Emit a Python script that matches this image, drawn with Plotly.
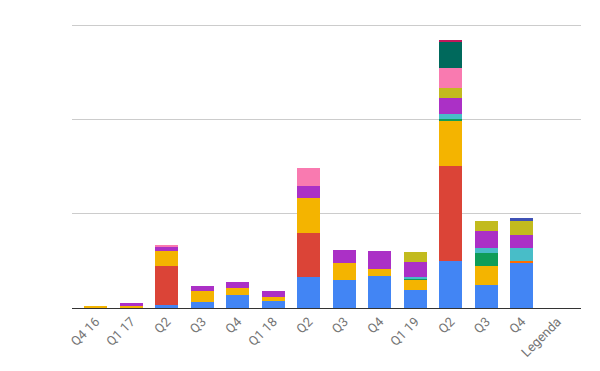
import plotly.graph_objects as go

categories = ["Q4 16", "Q1 17", "Q2", "Q3", "Q4", "Q1 18", "Q2", "Q3", "Q4",
              "Q1 19", "Q2", "Q3", "Q4", "Legenda"]

blue =      [0,   0,   3.5, 6.7, 14.1, 7.8, 32.5, 30.0, 34.3, 19.4, 49.5, 24.8, 47.8, 0]
red =       [0,   0,  41.5, 0,   0,    0,   47.5, 0,    0,    0,   101.7, 0,   0,    0]
yellow =    [1.5, 2.5, 16.0, 11.7, 7.4, 4.3, 37.2, 18.0, 7.4, 10.6, 47.8, 20.2, 0,   0]
green =     [0,   0,   0,   0,   0,    0,   0,    0,    0,    1.4,  2.1, 13.8, 0,    0]
orange =    [0,   0,   0,   0,   0,    0,   0,    0,    0,    0,    0,   0,    2.4,  0]
teal =      [0,   0,   0,   0,   0,    0,   0,    0,    0,    1.1,  5.3,  5.3, 13.8, 0]
purple =    [0,   2.8, 4.6, 5.3, 6.4,  6.4, 12.8, 13.8, 19.1, 16.7, 17.0, 18.1, 13.8, 0]
olive =     [0,   0,   0,   0,   0,    0,   0,    0,    0,    10.6, 10.6, 10.6, 14.9, 0]
indigo =    [0,   0,   0,   0,   0,    0,   0,    0,    0,    0,    0,    0,    3.2,  0]
pink =      [0,   0,   0.7, 0,   0,    0,   19.1, 0,    0,    0,    21.3, 0,    0,    0]
dark_teal = [0,   0,   0,   0,   0,    0,   0,    0,    0,    0,    28.0, 0,    0,    0]
crimson =   [0,   0,   0,   0,   0,    0,   0,    0,    0,    0,    1.8,  0,    0,    0]

series = [
    ("Serie 1", blue, "#4285F4"),
    ("Serie 2", red, "#DB4437"),
    ("Serie 3", yellow, "#F4B400"),
    ("Serie 4", green, "#0F9D58"),
    ("Serie 5", orange, "#FF6D00"),
    ("Serie 6", teal, "#48BDC8"),
    ("Serie 7", purple, "#AB30C6"),
    ("Serie 8", olive, "#C2BB1E"),
    ("Serie 9", indigo, "#3F51B5"),
    ("Serie 10", pink, "#F97AB0"),
    ("Serie 11", dark_teal, "#00695C"),
    ("Serie 12", crimson, "#C2185B"),
]

x = list(range(len(categories)))

fig = go.Figure()
for name, vals, color in series:
    fig.add_trace(go.Bar(
        x=x, y=vals, name=name, marker_color=color,
        marker_line_width=0, width=0.65, hoverinfo="skip",
    ))

# page body has an 8px default margin, so margins are offset by 8px
fig.update_layout(
    barmode="stack",
    width=600, height=371,
    margin=dict(l=64, r=27, t=13, b=71),
    paper_bgcolor="white", plot_bgcolor="white",
    showlegend=False,
    font=dict(family="Roboto", size=13, color="#757575"),
    xaxis=dict(
        tickmode="array", tickvals=x, ticktext=categories,
        tickangle=-45, range=[-0.67, 13.67], automargin=False,
        showgrid=False, showline=True, linecolor="#333333", linewidth=1,
        ticks="", zeroline=False,
        tickfont=dict(family="Roboto", size=13, color="#757575"),
    ),
    yaxis=dict(
        range=[0, 305], tickvals=[100, 200, 300], showticklabels=False,
        showgrid=True, gridcolor="#cccccc", gridwidth=1, automargin=False,
        zeroline=False, showline=False, ticks="",
    ),
)

fig.write_html("out.html")
